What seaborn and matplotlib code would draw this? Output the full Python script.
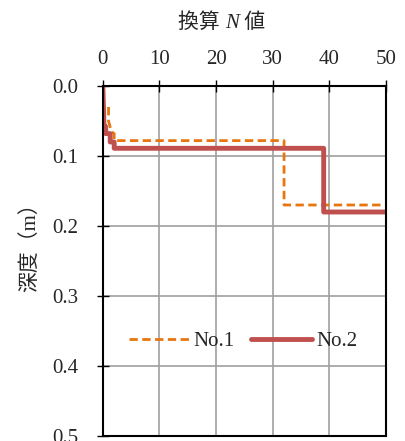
import seaborn as sns
import matplotlib.pyplot as plt
import pandas as pd

# depth profile data
n1_value = [1.0, 1.0, 1.5, 2.0, 2.0, 32.0, 32.0, 50.0]
n1_depth = [0.03, 0.05, 0.065, 0.068, 0.078, 0.078, 0.17, 0.17]
n2_value = [0.0, 0.2, 0.5, 0.5, 1.3, 1.3, 2.0, 2.0, 39.0, 39.0, 50.0]
n2_depth = [0.0, 0.058, 0.058, 0.068, 0.068, 0.08, 0.08, 0.089, 0.089, 0.18, 0.18]
x_ticks = [0, 10, 20, 30, 40, 50]
y_ticks = [0.0, 0.1, 0.2, 0.3, 0.4, 0.5]

df1 = pd.DataFrame({"N": n1_value, "depth": n1_depth})
df2 = pd.DataFrame({"N": n2_value, "depth": n2_depth})

sns.set_style("white")
plt.rcParams["font.family"] = ["Liberation Serif", "Noto Sans CJK JP"]

fig = plt.figure(figsize=(4.05, 4.41), dpi=100)
ax = fig.add_axes([0.254, 0.0113, 0.699, 0.7937])

sns.lineplot(data=df1, x="N", y="depth", sort=False, estimator=None, ax=ax,
             color="#E8760F", linestyle=(0, (3, 1.6)), linewidth=2, label="No.1")
sns.lineplot(data=df2, x="N", y="depth", sort=False, estimator=None, ax=ax,
             color="#C0504D", linewidth=3.5, label="No.2")

ax.set_xlim(0, 50)
ax.set_ylim(0.5, 0.0)
ax.set_xticks(x_ticks)
ax.set_yticks(y_ticks)
ax.set_yticklabels([f"{v:.1f}" for v in y_ticks])
ax.xaxis.tick_top()
ax.tick_params(axis="both", labelsize=15, direction="inout", length=9, width=1,
               color="black", left=True, top=True, bottom=False)
ax.tick_params(axis="x", pad=8)
ax.tick_params(axis="y", pad=13)
ax.grid(True, color="#A0A0A0", linewidth=1.2)
for s in ax.spines.values():
    s.set_color("black")
    s.set_linewidth(1.5)
ax.set_xlabel("")
ax.set_ylabel("")

# title built from pieces so the N can be italic
t1 = fig.text(0.44, 0.947, "換算 ", fontsize=15, ha="left", va="center")
t2 = ax.annotate("N", xy=(1, 0), xycoords=t1, fontsize=15, style="italic",
                 ha="left", va="bottom", annotation_clip=False)
ax.annotate(" 値", xy=(1, 0), xycoords=t2, fontsize=15, ha="left", va="bottom",
            annotation_clip=False)

fig.text(0.075, 0.45, "深度（m）", fontsize=15, rotation=90, ha="center", va="center")

ax.legend(loc="center", bbox_to_anchor=(0.495, 0.27), ncol=2, frameon=False,
          fontsize=15, handlelength=2.9, handletextpad=0.2, columnspacing=0.8)

fig.savefig("out.png", dpi=100)
